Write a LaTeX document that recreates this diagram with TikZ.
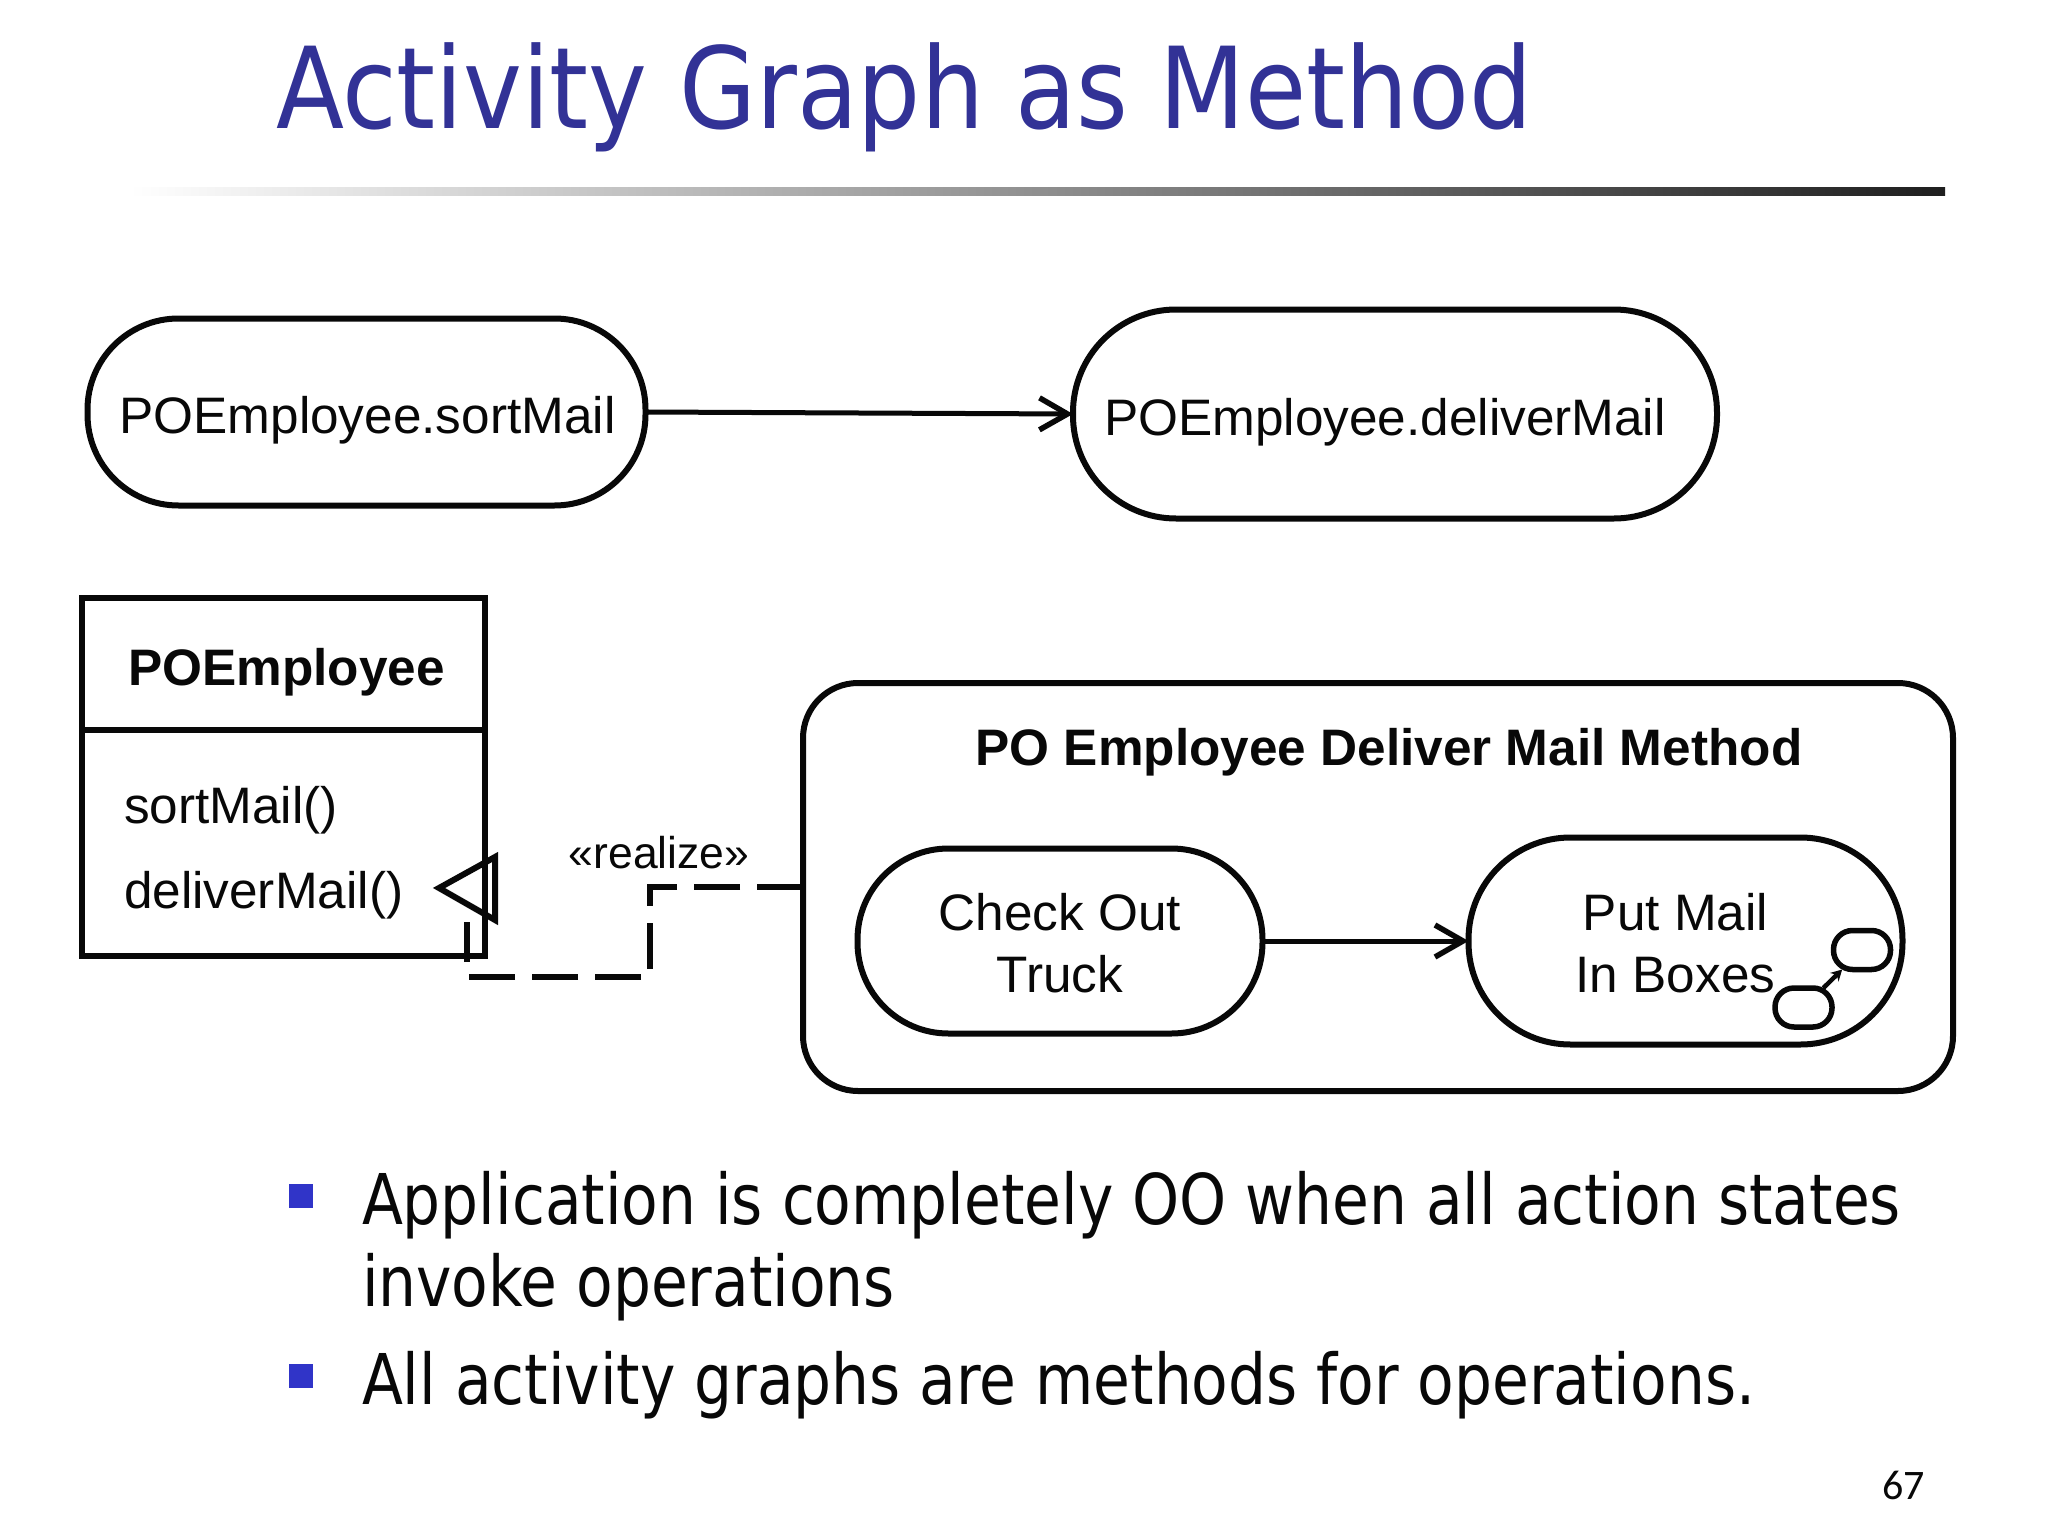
\documentclass[tikz,border=0pt]{standalone}
\usepackage{fontspec}
\setmainfont{Liberation Sans}
\newfontfamily\titlefont[FakeStretch=0.978]{DejaVu Sans Condensed}
\newfontfamily\slidefont[FakeStretch=0.95]{DejaVu Sans Condensed}
\newfontfamily\numfont{Carlito}
\usetikzlibrary{arrows.meta}
\definecolor{titleblue}{RGB}{50,50,150}
\definecolor{bulletblue}{RGB}{48,52,200}
\definecolor{inkblack}{RGB}{8,8,8}
\tikzset{
  x=1pt,y=-1pt,
  every node/.style={inner sep=0pt,outer sep=0pt,text=inkblack},
  body/.style={font=\fontsize{51.3}{62}\selectfont},
  heading/.style={font=\fontsize{51.3}{62}\selectfont\bfseries},
  state/.style={draw=inkblack,line width=6pt,body,rectangle},
  box/.style={draw=inkblack,line width=6pt,rectangle,miter limit=10},
  flow/.style={draw=inkblack,line width=5pt,-{Straight Barb[length=28pt,width=32pt,line width=5.5pt]}},
  minibox/.style={draw=inkblack,line width=5.5pt,rectangle,rounded corners=19pt,minimum width=57pt,minimum height=39pt},
  slide/.style={anchor=base west,font=\slidefont\fontsize{70}{82}\selectfont},
  bulletmark/.style={fill=bulletblue,minimum size=24pt,rectangle}
}
\begin{document}
\begin{tikzpicture}
\useasboundingbox (0,0) rectangle (2048,1536);
\fill[white] (0,0) rectangle (2048,1536);

% title
\node[anchor=base west,font=\titlefont\fontsize{113}{120}\selectfont,text=titleblue] (title) at (276,129) {Activity Graph as Method};
\shade[left color=white,right color=black!88] (130,187) rectangle (1945,195);

% top states
\node[state,rounded corners=91pt,minimum width=558pt,minimum height=187pt,text height=57pt,text depth=14pt] (sort) at (366.5,412) {\hspace*{2pt}POEmployee.sortMail};
\node[state,rounded corners=103pt,minimum width=644pt,minimum height=209pt,text height=56pt,text depth=14pt] (deliver) at (1395,414) {\hspace*{-20pt}POEmployee.deliverMail};
\draw[flow] (sort.east) -- (deliver.west);

% class box
\node[box,minimum width=403pt,minimum height=132pt,text height=54pt,text depth=12pt,heading] (classhead) at (283,664) {\hspace*{7pt}POEmployee};
\node[box,minimum width=403pt,minimum height=226pt] (classbody) at (283,842.5) {};
\node[body,anchor=base west] (op1) at (124,823) {sortMail()};
\node[body,anchor=base west] (op2) at (124,908) {deliverMail()};

% method box
\node[box,rounded corners=55pt,minimum width=1150pt,minimum height=408pt] (method) at (1378,887) {};
\node[anchor=base,heading] (methodtitle) at (1389,765) {PO Employee Deliver Mail Method};
\node[state,rounded corners=91pt,minimum width=405pt,minimum height=185pt,text height=0pt,text depth=0pt] (check) at (1060,941) {\raisebox{-14pt}[0pt][0pt]{\begin{tabular}{@{}c@{}}Check Out\\Truck\end{tabular}}};
\node[state,rounded corners=102pt,minimum width=434pt,minimum height=207pt,text height=0pt,text depth=0pt] (put) at (1685.5,941) {\hspace*{-20pt}\raisebox{-14pt}[0pt][0pt]{\begin{tabular}{@{}c@{}}Put Mail\\In Boxes\end{tabular}}};
\draw[flow] (check.east) -- (put.west);

% nested activity icon
\node[minibox] (iconb) at (1862,950) {};
\node[minibox] (icona) at (1803.5,1007.5) {};
\draw[draw=inkblack,line width=4.5pt,-{Stealth[length=11pt,width=12pt]}] (icona) -- (iconb);

% realization
\node[anchor=base,font=\fontsize{44.5}{50}\selectfont] (realize) at (659,868) {«realize»};
\coordinate (r1) at (650,887);
\coordinate (r2) at (650,977);
\coordinate (r3) at (467,977);
\coordinate (r4) at (467,922);
\coordinate (t1) at (439,888);
\coordinate (t2) at (495,857);
\coordinate (t3) at (495,920);
\draw[draw=inkblack,line width=6pt,dash pattern=on 46pt off 17pt] (method.west |- r1) -- (r1) -- (r2) -- (r3) -- (r4);
\draw[draw=inkblack,line width=6pt,miter limit=10] (t1) -- (t2) -- (t3) -- cycle;

% bullets
\node[bulletmark] (b1) at (301,1195.5) {};
\node[bulletmark] (b2) at (301,1376) {};
\node[slide] (l1) at (362,1224) {Application is completely OO when all action states};
\node[slide] (l2) at (362,1306) {invoke operations};
\node[slide] (l3) at (362,1404) {All activity graphs are methods for operations.};

% page number
\node[anchor=base west,font=\numfont\fontsize{42}{46}\selectfont] (page) at (1882,1499) {67};
\end{tikzpicture}
\end{document}
